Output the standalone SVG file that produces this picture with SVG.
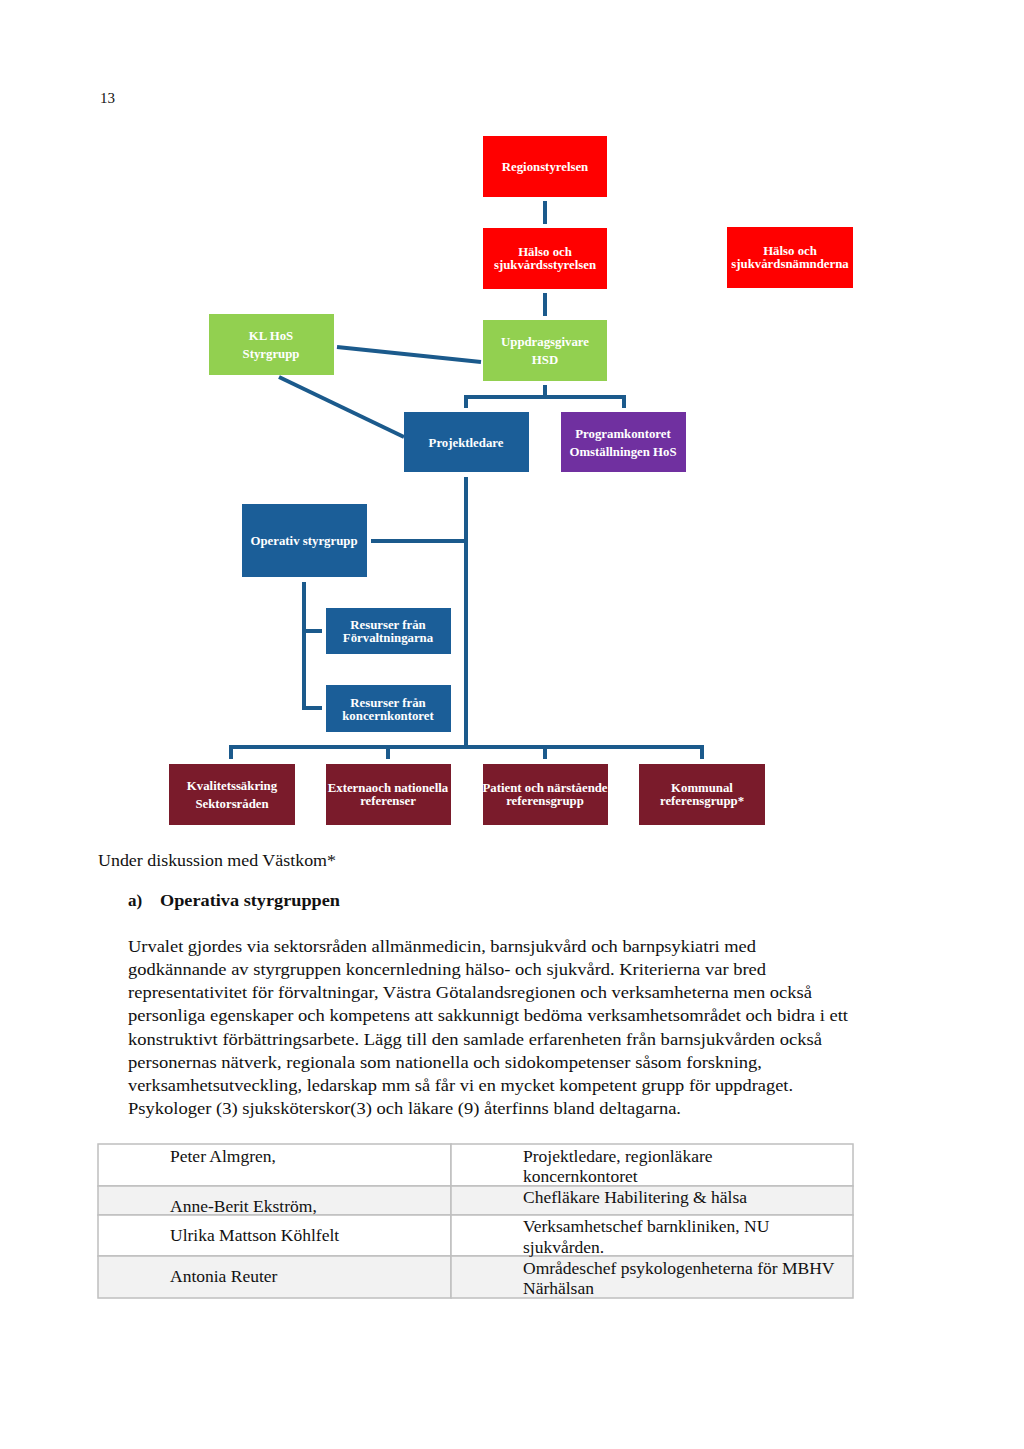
<svg xmlns="http://www.w3.org/2000/svg" width="1024" height="1449" viewBox="0 0 1024 1449">
<style>
.lbl{font-family:"Liberation Serif","DejaVu Serif",serif;font-weight:bold;font-size:12.8px;fill:#fff;text-anchor:middle}
.red{fill:#FF0000}.grn{fill:#92D050}.blu{fill:#1B5E98}.pur{fill:#7030A0}.mar{fill:#7A1B2B}
.con{stroke:#1B5A8C;stroke-width:4;fill:none}
.body{font-family:"Liberation Serif","DejaVu Serif",serif;font-size:17px;fill:#111}
.tb{font-size:17.5px}
.bold{font-weight:bold}
.cell{fill:#fff;stroke:#BFBFBF;stroke-width:1.5}
.cellg{fill:#F2F2F2;stroke:#BFBFBF;stroke-width:1.5}
</style>
<rect width="1024" height="1449" fill="#fff"/>
<text x="100" y="103" class="body" style="font-size:15px">13</text>

<g id="connectors">
<line class="con" x1="545" y1="201" x2="545" y2="224"/>
<line class="con" x1="545" y1="293" x2="545" y2="316"/>
<line class="con" x1="337" y1="347" x2="481" y2="362"/>
<line class="con" x1="279" y1="377" x2="404" y2="437"/>
<polyline class="con" points="545,385 545,397"/>
<polyline class="con" points="466,408 466,397 624,397 624,408"/>
<line class="con" x1="466" y1="477" x2="466" y2="749"/>
<line class="con" x1="371" y1="541" x2="466" y2="541"/>
<polyline class="con" points="304,582 304,708 322,708"/>
<line class="con" x1="304" y1="631" x2="322" y2="631"/>
<polyline class="con" points="231,759 231,747 702,747 702,759"/>
<line class="con" x1="388" y1="747" x2="388" y2="759"/>
<line class="con" x1="545" y1="747" x2="545" y2="759"/>
</g>

<g id="regionstyrelsen"><rect class="red" x="483" y="136" width="124" height="61"/><text class="lbl" x="545" y="171">Regionstyrelsen</text></g>
<g id="hss"><rect class="red" x="483" y="228" width="124" height="61"/><text class="lbl" x="545" y="256">Hälso och</text><text class="lbl" x="545" y="269">sjukvårdsstyrelsen</text></g>
<g id="hsn"><rect class="red" x="727" y="227" width="126" height="61"/><text class="lbl" x="790" y="255">Hälso och</text><text class="lbl" x="790" y="268">sjukvårdsnämnderna</text></g>
<g id="klhos"><rect class="grn" x="209" y="314" width="125" height="61"/><text class="lbl" x="271" y="340">KL HoS</text><text class="lbl" x="271" y="358">Styrgrupp</text></g>
<g id="uppdragsgivare"><rect class="grn" x="483" y="320" width="124" height="61"/><text class="lbl" x="545" y="346">Uppdragsgivare</text><text class="lbl" x="545" y="364">HSD</text></g>
<g id="projektledare"><rect class="blu" x="404" y="412" width="125" height="60"/><text class="lbl" x="466" y="447">Projektledare</text></g>
<g id="programkontoret"><rect class="pur" x="561" y="412" width="125" height="60"/><text class="lbl" x="623" y="438">Programkontoret</text><text class="lbl" x="623" y="456">Omställningen HoS</text></g>
<g id="operativ"><rect class="blu" x="242" y="504" width="125" height="73"/><text class="lbl" x="304" y="545">Operativ styrgrupp</text></g>
<g id="resurser1"><rect class="blu" x="326" y="608" width="125" height="46"/><text class="lbl" x="388" y="629">Resurser från</text><text class="lbl" x="388" y="642">Förvaltningarna</text></g>
<g id="resurser2"><rect class="blu" x="326" y="685" width="125" height="47"/><text class="lbl" x="388" y="707">Resurser från</text><text class="lbl" x="388" y="720">koncernkontoret</text></g>
<g id="kvalitet"><rect class="mar" x="169" y="764" width="126" height="61"/><text class="lbl" x="232" y="790">Kvalitetssäkring</text><text class="lbl" x="232" y="808">Sektorsråden</text></g>
<g id="externa"><rect class="mar" x="326" y="764" width="125" height="61"/><text class="lbl" x="388" y="792">Externaoch nationella</text><text class="lbl" x="388" y="805">referenser</text></g>
<g id="patient"><rect class="mar" x="483" y="764" width="125" height="61"/><text class="lbl" x="545" y="792">Patient och närstående</text><text class="lbl" x="545" y="805">referensgrupp</text></g>
<g id="kommunal"><rect class="mar" x="639" y="764" width="126" height="61"/><text class="lbl" x="702" y="792">Kommunal</text><text class="lbl" x="702" y="805">referensgrupp*</text></g>

<text class="body" x="98" y="866" textLength="238" lengthAdjust="spacingAndGlyphs">Under diskussion med Västkom*</text>
<text class="body bold" x="128" y="906">a)</text>
<text class="body bold" x="160" y="906" textLength="180" lengthAdjust="spacingAndGlyphs">Operativa styrgruppen</text>

<text class="body" x="128" y="952" textLength="628" lengthAdjust="spacingAndGlyphs">Urvalet gjordes via sektorsråden allmänmedicin, barnsjukvård och barnpsykiatri med</text>
<text class="body" x="128" y="975" textLength="638" lengthAdjust="spacingAndGlyphs">godkännande av styrgruppen koncernledning hälso- och sjukvård. Kriterierna var bred</text>
<text class="body" x="128" y="998" textLength="684" lengthAdjust="spacingAndGlyphs">representativitet för förvaltningar, Västra Götalandsregionen och verksamheterna men också</text>
<text class="body" x="128" y="1021" textLength="720" lengthAdjust="spacingAndGlyphs">personliga egenskaper och kompetens att sakkunnigt bedöma verksamhetsområdet och bidra i ett</text>
<text class="body" x="128" y="1045" textLength="694" lengthAdjust="spacingAndGlyphs">konstruktivt förbättringsarbete. Lägg till den samlade erfarenheten från barnsjukvården också</text>
<text class="body" x="128" y="1068" textLength="634" lengthAdjust="spacingAndGlyphs">personernas nätverk, regionala som nationella och sidokompetenser såsom forskning,</text>
<text class="body" x="128" y="1091" textLength="665" lengthAdjust="spacingAndGlyphs">verksamhetsutveckling, ledarskap mm så får vi en mycket kompetent grupp för uppdraget.</text>
<text class="body" x="128" y="1114" textLength="553" lengthAdjust="spacingAndGlyphs">Psykologer (3) sjuksköterskor(3) och läkare (9) återfinns bland deltagarna.</text>

<g id="table">
<rect class="cell" x="98" y="1144" width="353" height="42"/><rect class="cell" x="451" y="1144" width="402" height="42"/>
<rect class="cellg" x="98" y="1186" width="353" height="29"/><rect class="cellg" x="451" y="1186" width="402" height="29"/>
<rect class="cell" x="98" y="1215" width="353" height="41"/><rect class="cell" x="451" y="1215" width="402" height="41"/>
<rect class="cellg" x="98" y="1256" width="353" height="42"/><rect class="cellg" x="451" y="1256" width="402" height="42"/>
<text class="body tb" x="170" y="1162">Peter Almgren,</text>
<text class="body tb" x="523" y="1162">Projektledare, regionläkare</text>
<text class="body tb" x="523" y="1182">koncernkontoret</text>
<text class="body tb" x="170" y="1212">Anne-Berit Ekström,</text>
<text class="body tb" x="523" y="1203">Chefläkare Habilitering &amp; hälsa</text>
<text class="body tb" x="170" y="1241">Ulrika Mattson Köhlfelt</text>
<text class="body tb" x="523" y="1232">Verksamhetschef barnkliniken, NU</text>
<text class="body tb" x="523" y="1253">sjukvården.</text>
<text class="body tb" x="170" y="1282">Antonia Reuter</text>
<text class="body tb" x="523" y="1274">Områdeschef psykologenheterna för MBHV</text>
<text class="body tb" x="523" y="1294">Närhälsan</text>
</g>
</svg>
